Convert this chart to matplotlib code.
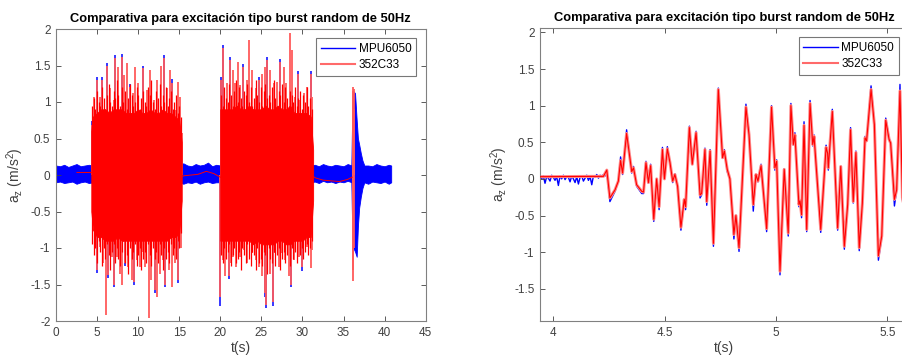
import numpy as np
import matplotlib
matplotlib.use("Agg")
import matplotlib.pyplot as plt
from matplotlib.lines import Line2D

plt.rcParams['font.family'] = ['Liberation Sans', 'DejaVu Sans']
plt.rcParams['mathtext.default'] = 'regular'

TITLE = "Comparativa para excitación tipo burst random de 50Hz"
XLABEL = "t(s)"
YLABEL = "a$_z$ (m/s$^2$)"
LEGEND = ["MPU6050", "352C33"]

# ---------------- left panel data (decimated envelopes / spikes) ----------------
# blue sensor background noise band, 0..40.8 s
noise_t = [0, 0.5, 1, 1.5, 2, 2.5, 3, 3.5, 4, 4.5,
           5, 5.5, 6, 6.5, 7, 7.5, 8, 8.5, 9, 9.5,
           10, 10.5, 11, 11.5, 12, 12.5, 13, 13.5, 14, 14.5,
           15, 15.5, 16, 16.5, 17, 17.5, 18, 18.5, 19, 19.5,
           20, 20.5, 21, 21.5, 22, 22.5, 23, 23.5, 24, 24.5,
           25, 25.5, 26, 26.5, 27, 27.5, 28, 28.5, 29, 29.5,
           30, 30.5, 31, 31.5, 32, 32.5, 33, 33.5, 34, 34.5,
           35, 35.5, 36, 36.5, 37, 37.5, 38, 38.5, 39, 39.5,
           40, 40.5, 40.8]
noise_hi = [0.13, 0.12, 0.14, 0.11, 0.13, 0.15, 0.12, 0.13, 0.14, 0.13,
            0.12, 0.13, 0.12, 0.13, 0.12, 0.13, 0.12, 0.13, 0.12, 0.13,
            0.12, 0.13, 0.12, 0.13, 0.12, 0.13, 0.12, 0.13, 0.12, 0.13,
            0.14, 0.16, 0.13, 0.12, 0.15, 0.13, 0.14, 0.17, 0.12, 0.14,
            0.13, 0.13, 0.12, 0.13, 0.12, 0.13, 0.12, 0.13, 0.12, 0.13,
            0.12, 0.13, 0.12, 0.13, 0.12, 0.13, 0.12, 0.13, 0.12, 0.13,
            0.12, 0.13, 0.13, 0.14, 0.12, 0.15, 0.13, 0.12, 0.14, 0.13,
            0.12, 0.15, 0.13, 0.14, 0.12, 0.13, 0.13, 0.12, 0.15, 0.13,
            0.12, 0.14, 0.13]
noise_lo = [-0.10, -0.09, -0.11, -0.10, -0.09, -0.12, -0.10, -0.09, -0.11, -0.10,
            -0.10, -0.10, -0.10, -0.10, -0.10, -0.10, -0.10, -0.10, -0.10, -0.10,
            -0.10, -0.10, -0.10, -0.10, -0.10, -0.10, -0.10, -0.10, -0.10, -0.10,
            -0.10, -0.12, -0.10, -0.11, -0.09, -0.12, -0.10, -0.09, -0.11, -0.10,
            -0.10, -0.10, -0.10, -0.10, -0.10, -0.10, -0.10, -0.10, -0.10, -0.10,
            -0.10, -0.10, -0.10, -0.10, -0.10, -0.10, -0.10, -0.10, -0.10, -0.10,
            -0.10, -0.10, -0.10, -0.09, -0.11, -0.08, -0.10, -0.09, -0.11, -0.09,
            -0.10, -0.08, -0.10, -0.10, -0.11, -0.10, -0.12, -0.09, -0.10, -0.11,
            -0.09, -0.12, -0.10]

# blue third burst (decaying)
b3_t  = [35.95, 36.05, 36.2, 36.4, 36.6, 36.75, 36.9, 37.1, 37.3, 37.5]
b3_hi = [0.13, 0.85, 1.15, 1.12, 0.75, 0.5, 0.42, 0.3, 0.2, 0.14]
b3_lo = [-0.11, -0.75, -1.0, -1.05, -1.12, -0.7, -0.45, -0.3, -0.18, -0.11]

# red burst cores (dense, sampled every 0.5 s)
r1_t  = [4.3, 4.5, 5, 5.5, 6, 6.5, 7, 7.5, 8, 8.5, 9, 9.5, 10, 10.5, 11, 11.5, 12, 12.5,
         13, 13.5, 14, 14.5, 15, 15.3]
r1_hi = [0.6, 0.8, 0.85, 0.9, 0.9, 0.85, 0.9, 0.9, 0.9, 0.85, 0.85, 0.85, 0.9, 0.85,
         0.85, 0.9, 0.85, 0.85, 0.9, 0.85, 0.85, 0.8, 0.75, 0.45]
r1_lo = [-0.5, -0.75, -0.85, -0.85, -0.9, -0.9, -0.9, -0.85, -0.9, -0.9, -0.9, -0.9,
         -0.9, -0.9, -0.9, -0.9, -0.9, -0.9, -0.9, -0.9, -0.85, -0.85, -0.8, -0.35]
r2_t  = [20.0, 20.5, 21, 21.5, 22, 22.5, 23, 23.5, 24, 24.5, 25, 25.5, 26, 26.5, 27, 27.5,
         28, 28.5, 29, 29.5, 30, 30.5, 31, 31.3]
r2_hi = [0.9, 0.9, 0.9, 0.9, 0.95, 0.9, 0.9, 0.95, 0.9, 0.9, 0.9, 0.95, 0.9, 0.9,
         0.95, 0.9, 0.9, 0.95, 0.85, 0.85, 0.85, 0.85, 0.8, 0.35]
r2_lo = [-0.9, -0.9, -0.9, -0.9, -0.9, -0.9, -0.9, -0.9, -0.95, -0.9, -0.95, -0.95,
         -0.95, -0.95, -0.9, -0.9, -0.95, -0.95, -0.9, -0.9, -0.9, -0.85, -0.85, -0.35]

# medium red oscillation peaks every 0.2 s inside the bursts
m1_start, m1_end = 4.4, 15.2
m1_hi = [0.95, 1.05, 0.9, 1.15, 1.0, 0.95, 1.2, 1.05, 0.9, 1.1,
         1.25, 1.0, 0.95, 1.15, 1.05, 1.3, 1.1, 0.95, 1.2, 1.0,
         1.15, 0.9, 1.05, 1.25, 1.1, 0.95, 1.0, 1.2, 1.1, 0.9,
         1.05, 1.15, 1.0, 0.95, 1.2, 1.1, 1.3, 1.0, 0.9, 1.15,
         1.05, 1.25, 0.95, 1.1, 1.0, 1.2, 0.95, 1.05, 1.15, 0.9,
         1.0, 1.1, 0.85, 0.95, 0.8]
m1_lo = [-0.95, -1.1, -1.0, -1.2, -0.9, -1.05, -1.25, -1.0, -1.15, -0.95,
         -1.1, -1.3, -1.05, -0.95, -1.2, -1.0, -1.15, -1.25, -1.05, -0.9,
         -1.2, -1.1, -1.35, -1.0, -1.15, -1.05, -0.95, -1.25, -1.1, -1.0,
         -1.3, -1.15, -1.05, -1.2, -0.95, -1.1, -1.25, -1.0, -1.15, -1.05,
         -1.2, -0.95, -1.1, -1.3, -1.0, -1.15, -1.05, -1.2, -0.95, -1.1,
         -1.0, -1.15, -0.9, -1.0, -0.8]
m2_start, m2_end = 20.1, 31.1
m2_hi = [1.1, 0.95, 1.2, 1.05, 1.0, 1.25, 1.1, 0.95, 1.15, 1.3,
         1.0, 1.2, 1.05, 0.95, 1.15, 1.1, 1.25, 1.0, 1.2, 0.95,
         1.05, 1.3, 1.1, 1.0, 1.2, 0.95, 1.15, 1.25, 1.05, 1.1,
         1.0, 1.2, 1.3, 1.05, 0.95, 1.15, 1.1, 1.25, 1.0, 1.2,
         1.05, 0.95, 1.15, 1.1, 1.0, 1.2, 0.95, 1.05, 1.15, 0.9,
         1.1, 1.0, 1.2, 0.95, 1.05, 0.9]
m2_lo = [-1.1, -1.2, -1.0, -1.15, -1.05, -0.95, -1.25, -1.1, -1.0, -1.2,
         -1.15, -1.05, -1.3, -1.0, -1.1, -1.2, -0.95, -1.15, -1.25, -1.05,
         -1.1, -1.3, -1.0, -1.2, -1.15, -1.25, -1.05, -1.1, -1.35, -1.0,
         -1.15, -1.2, -1.05, -1.25, -1.1, -1.0, -1.3, -1.15, -1.05, -1.2,
         -1.1, -0.95, -1.25, -1.0, -1.15, -1.05, -1.2, -0.9, -1.1, -1.0,
         -1.15, -1.05, -0.95, -1.1, -1.0, -0.9]

# large red spike tips
rsp_t = [4.35, 4.67, 4.96, 5.37, 5.57, 6.18, 6.59, 7.0, 7.2, 7.6, 8.0, 8.33, 8.62, 9.02,
         9.43, 9.63, 10.04, 10.45, 10.65, 11.06, 11.46, 11.87, 12.28, 12.8, 13.1, 13.5,
         13.9, 14.1, 14.5, 14.9, 15.1, 15.3,
         4.55, 4.76, 5.04, 5.37, 5.77, 6.1, 6.38, 6.79, 7.0, 7.4, 7.8, 8.0, 8.41, 8.82,
         9.23, 9.51, 9.84, 10.24, 10.57, 10.85, 11.26, 11.59, 11.99, 12.28, 12.68, 12.97,
         13.29, 13.7, 14.1, 14.5, 14.9, 15.2,
         20.08, 20.33, 20.81, 21.2, 21.5, 21.8, 22.1, 22.4, 22.76, 23.25, 23.45, 23.86,
         24.3, 24.7, 25.1, 25.5, 25.7, 26.1, 26.5, 26.9, 27.3, 27.7, 28.05, 28.46, 28.74,
         29.15, 29.5, 29.76, 30.16, 30.57, 30.98, 31.2,
         20.0, 20.33, 20.6, 21.0, 21.2, 21.6, 21.95, 22.36, 22.85, 23.25, 23.86, 24.3,
         24.7, 25.1, 25.4, 25.6, 26.0, 26.4, 26.7, 27.1, 27.5, 27.9, 28.3, 28.6, 29.0,
         29.55, 29.96, 30.37, 30.57, 30.98, 31.2,
         36.1, 36.18, 36.25, 36.32, 36.12, 36.2, 36.3]
rsp_v = [0.68, 1.07, 1.3, 1.07, 1.3, 1.5, 1.19, 1.03, 1.6, 1.48, 1.62, 1.37, 1.53, 1.21,
         1.12, 1.48, 1.26, 1.03, 1.46, 1.16, 1.44, 1.03, 1.3, 1.5, 1.6, 1.19,
         1.44, 1.26, 0.89, 1.28, 1.07, 0.57,
         -0.62, -0.89, -1.3, -0.98, -1.21, -1.92, -1.37, -1.12, -1.5, -1.12, -1.35, -1.5,
         -1.21, -1.26, -1.44, -1.46, -1.16, -1.26, -1.05, -1.26, -1.96, -1.44, -1.58, -1.67,
         -1.35, -1.16, -1.5, -1.3, -1.53, -1.21, -1.44, -1.0,
         1.3, 1.74, 1.26, 1.58, 1.44, 1.26, 1.55, 1.23, 1.48, 1.3, 1.85, 1.44,
         1.19, 1.3, 1.39, 1.48, 1.58, 1.44, 1.26, 1.28, 1.55, 1.48, 1.26, 1.95, 1.71,
         1.07, 1.39, 1.03, 1.12, 1.21, 1.39, 1.07,
         -1.67, -1.16, -1.39, -1.39, -1.21, -1.12, -1.26, -1.12, -1.03, -1.21, -1.07, -1.16,
         -1.26, -1.39, -1.62, -1.78, -1.35, -1.74, -1.07, -1.26, -1.07, -1.16, -1.39, -1.5,
         -1.16, -1.12, -1.26, -0.75, -0.98, -1.28, -1.03,
         1.15, 1.2, 1.18, 0.9, -1.45, -1.3, -1.0]

# blue spike tips visible just beyond the red ones
bsp_t = [4.35, 4.96, 5.57, 6.18, 7.2, 8.0, 9.02, 10.65, 13.1, 14.1, 20.08, 20.33, 21.2,
         22.76, 24.7, 25.7, 27.3, 29.5, 30.98,
         5.04, 6.38, 7.0, 8.41, 9.51, 11.99, 13.29, 14.9, 20.0, 21.0, 25.4, 25.6, 26.4,
         28.6, 29.96]
bsp_v = [0.74, 1.34, 1.34, 1.54, 1.64, 1.66, 1.25, 1.5, 1.64, 1.31, 1.34, 1.78, 1.62,
         1.52, 1.34, 1.61, 1.59, 1.43, 1.43,
         -1.34, -1.41, -1.54, -1.25, -1.51, -1.62, -1.54, -1.48, -1.79, -1.43, -1.67,
         -1.82, -1.79, -1.54, -1.31]

# red sensor baseline between bursts
rb_t = [2.55, 4.3, 15.3, 15.6, 16.5, 17.3, 18.3, 19.2, 20.0, 31.3, 31.6, 32.5, 33.5,
        34.5, 35.5, 36.05]
rb_v = [0.035, 0.035, -0.02, -0.01, 0.0, 0.01, 0.05, 0.02, -0.03, -0.02, -0.04, -0.07,
        -0.08, -0.09, -0.06, -0.03]

# ---------------- right panel data (zoom 3.94-5.6 s) ----------------
bz_pre = [0.05, 0.0, 0.04, -0.06, 0.03, 0.01, -0.03, 0.05, 0.02, -0.02, 0.03, -0.09,
          0.04, 0.0, 0.05, -0.01, 0.03, 0.02, -0.04, 0.04, 0.0, -0.05, 0.03, -0.07, 0.02,
          0.04, -0.03, 0.01, 0.05, -0.02, 0.03, -0.08, 0.04, 0.02, 0.06, 0.01, 0.05, 0.03,
          0.06, 0.04]
z_t = [4.225, 4.24, 4.254, 4.277, 4.292, 4.302, 4.311, 4.329, 4.352, 4.36, 4.374, 4.397,
       4.405, 4.416, 4.427, 4.437, 4.451, 4.464, 4.475, 4.49, 4.499, 4.512, 4.524, 4.536,
       4.546, 4.558, 4.573, 4.588, 4.594, 4.611, 4.624, 4.641, 4.659, 4.666, 4.681, 4.689,
       4.704, 4.719, 4.741, 4.76, 4.768, 4.781, 4.793, 4.811, 4.82, 4.834, 4.865, 4.879,
       4.898, 4.91, 4.919, 4.933, 4.958, 4.98, 4.995, 5.003, 5.018, 5.037, 5.055, 5.067,
       5.078, 5.085, 5.103, 5.108, 5.115, 5.126, 5.138, 5.153, 5.165, 5.171, 5.201, 5.225,
       5.232, 5.235, 5.253, 5.277, 5.291, 5.307, 5.322, 5.335, 5.347, 5.359, 5.374, 5.388,
       5.4, 5.407, 5.427, 5.442, 5.46, 5.475, 5.493, 5.508, 5.515, 5.532, 5.542, 5.557,
       5.568, 5.59]
rz_v = [0.035, 0.12, -0.26, -0.15, -0.03, 0.25, 0.08, 0.62, 0.1, 0.15, -0.08, -0.17,
        -0.18, 0.22, -0.05, 0.18, -0.55, 0.0, -0.38, 0.4, 0.0, 0.41, 0.22, -0.03,
        0.06, -0.1, -0.66, -0.28, -0.38, 0.7, 0.2, 0.63, -0.22, -0.2, 0.4, -0.31,
        0.38, -0.88, 1.22, 0.29, 0.38, 0.13, 0.0, -0.76, -0.5, -0.94, 0.98, 0.6,
        -0.35, 0.06, -0.03, 0.18, -0.68, 0.98, 0.15, 0.24, -1.26, 0.13, -0.74, 1.0,
        0.47, 0.6, -0.35, -0.3, -0.49, 0.73, -0.69, 1.03, 0.47, 0.58, -0.69, 0.43,
        0.35, 0.15, 0.92, -0.67, 0.17, -0.92, -0.35, 0.67, -0.31, 0.36, -0.94, -0.33,
        0.56, 0.52, 1.22, 0.74, -1.05, -0.78, 0.8, 0.54, 0.49, -0.28, -0.15, 1.2,
        -0.26, -0.6]
bz_v = [0.04, 0.1, -0.31, -0.17, -0.03, 0.3, 0.06, 0.67, 0.08, 0.17, -0.1, -0.2,
        -0.2, 0.24, -0.06, 0.2, -0.58, 0.0, -0.42, 0.43, 0.0, 0.44, 0.22, -0.05,
        0.07, -0.12, -0.7, -0.3, -0.42, 0.72, 0.2, 0.65, -0.26, -0.22, 0.42, -0.36,
        0.4, -0.92, 1.24, 0.28, 0.4, 0.1, 0.0, -0.82, -0.5, -0.99, 1.02, 0.63,
        -0.44, 0.06, -0.04, 0.2, -0.72, 1.0, 0.12, 0.26, -1.31, 0.14, -0.78, 1.03,
        0.46, 0.63, -0.38, -0.3, -0.53, 0.78, -0.72, 1.07, 0.45, 0.6, -0.73, 0.46,
        0.35, 0.12, 0.95, -0.7, 0.17, -0.96, -0.37, 0.7, -0.33, 0.38, -0.98, -0.35,
        0.58, 0.52, 1.27, 0.76, -1.11, -0.8, 0.83, 0.56, 0.49, -0.37, -0.15, 1.29,
        -0.28, -0.62]

BLUE = "#0000ff"
RED = "#ff0000"
PINK = "#ff5a5a"
HALO = "#ff8c8c"

fig = plt.figure(figsize=(9.02, 3.59), dpi=100)
ax1 = fig.add_axes([56 / 902, 1 - 321 / 359, (425.7 - 56) / 902, (321 - 29) / 359])
ax2 = fig.add_axes([540 / 902, 1 - 321 / 359, (908 - 540) / 902, (321 - 28) / 359])

# ---- left panel ----
ax1.fill_between(noise_t, noise_lo, noise_hi, color=BLUE, lw=0.6, zorder=1)
ax1.fill_between(b3_t, b3_lo, b3_hi, color=BLUE, lw=0.6, zorder=1)
ax1.vlines(bsp_t, 0, bsp_v, color=BLUE, lw=1.1, zorder=1.5)
ax1.vlines(rsp_t, 0, rsp_v, color=PINK, lw=1.3, zorder=2)
m1_t = np.linspace(m1_start, m1_end, len(m1_hi))
m2_t = np.linspace(m2_start, m2_end, len(m2_hi))
for mt, mh, ml in ((m1_t, m1_hi, m1_lo), (m2_t, m2_hi, m2_lo)):
    ax1.vlines(mt, ml, mh, color=RED, lw=0.9, zorder=2.5)
ax1.fill_between(r1_t, r1_lo, r1_hi, color=RED, lw=0.6, zorder=3)
ax1.fill_between(r2_t, r2_lo, r2_hi, color=RED, lw=0.6, zorder=3)
ax1.plot(rb_t, rb_v, color=RED, lw=0.7, zorder=3)

ax1.set_xlim(0, 45)
ax1.set_ylim(-2, 2)
ax1.set_xticks(np.arange(0, 46, 5))
ax1.set_yticks(np.arange(-2, 2.01, 0.5))
ax1.set_yticklabels(["-2", "-1.5", "-1", "-0.5", "0", "0.5", "1", "1.5", "2"])

# ---- right panel ----
n_pre = len(bz_pre)
t_pre = np.linspace(3.94, 4.2325, n_pre)
ax2.plot(list(t_pre) + z_t[1:], bz_pre + bz_v[1:], color=BLUE, lw=1.0, zorder=1)
ax2.plot([3.94] + z_t, [0.03] + rz_v, color=HALO, lw=2.2, zorder=2,
         solid_joinstyle='round')
ax2.plot([3.94] + z_t, [0.03] + rz_v, color=RED, lw=0.8, zorder=3,
         solid_joinstyle='round')
ax2.set_xlim(3.94, 5.593)
ax2.set_ylim(-1.94, 2.06)
ax2.set_xticks([4, 4.5, 5, 5.5])
ax2.set_xticklabels(["4", "4.5", "5", "5.5"])
ax2.set_yticks([-1.5, -1, -0.5, 0, 0.5, 1, 1.5, 2])
ax2.set_yticklabels(["-1.5", "-1", "-0.5", "0", "0.5", "1", "1.5", "2"])

handles = [Line2D([], [], color=BLUE, lw=1.0),
           Line2D([], [], color="#ff6a6a", lw=1.5)]

for ax in (ax1, ax2):
    ax.set_title(TITLE, fontsize=9.3, fontweight='bold', pad=5, color='black')
    ax.set_xlabel(XLABEL, fontsize=10, color='#404040', labelpad=2)
    ax.set_ylabel(YLABEL, fontsize=10, color='#404040', labelpad=3)
    ax.tick_params(direction='in', length=3.5, width=0.6, labelsize=8.5,
                   colors='#404040', top=True, right=True, pad=4)
    for s in ax.spines.values():
        s.set_color('#808080')
        s.set_linewidth(0.8)
    leg = ax.legend(handles, LEGEND, loc='upper right', fontsize=8.5, frameon=True,
                    fancybox=False, borderpad=0.4, handlelength=2.9, handletextpad=0.3,
                    labelspacing=0.35, borderaxespad=0.8)
    leg.get_frame().set_edgecolor('#555555')
    leg.get_frame().set_linewidth(0.8)

fig.savefig("out.png", dpi=100)
